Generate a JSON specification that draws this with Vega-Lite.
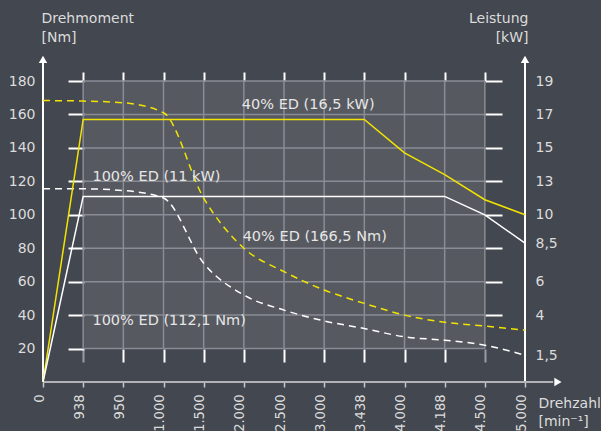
{
  "$schema": "https://vega.github.io/schema/vega-lite/v6.json",
  "width": 482,
  "height": 301,
  "autosize": {"type": "none"},
  "padding": {"left": 43, "top": 81, "right": 76, "bottom": 49},
  "background": "#43474f",
  "config": {
    "view": {"stroke": null},
    "font": "DejaVu Sans",
    "axis": {"labelFont": "DejaVu Sans", "titleFont": "DejaVu Sans", "grid": false, "labelColor": "#dcdcdc", "titleColor": "#dcdcdc", "titleFontWeight": "normal"}
  },
  "datasets": {
    "kurven": [
      {"n": 0, "v": 0, "s": "40% ED Leistung"},
      {"n": 1, "v": 157, "s": "40% ED Leistung"},
      {"n": 8, "v": 157, "s": "40% ED Leistung"},
      {"n": 9, "v": 137, "s": "40% ED Leistung"},
      {"n": 10, "v": 124, "s": "40% ED Leistung"},
      {"n": 11, "v": 109, "s": "40% ED Leistung"},
      {"n": 12, "v": 100, "s": "40% ED Leistung"},
      {"n": 0, "v": 0, "s": "100% ED Leistung"},
      {"n": 1, "v": 111, "s": "100% ED Leistung"},
      {"n": 10, "v": 111, "s": "100% ED Leistung"},
      {"n": 11, "v": 100, "s": "100% ED Leistung"},
      {"n": 12, "v": 83, "s": "100% ED Leistung"},
      {"n": 0, "v": 168.3, "s": "40% ED Moment"},
      {"n": 1, "v": 168, "s": "40% ED Moment"},
      {"n": 2, "v": 167, "s": "40% ED Moment"},
      {"n": 3, "v": 161, "s": "40% ED Moment"},
      {"n": 4, "v": 110, "s": "40% ED Moment"},
      {"n": 5, "v": 80, "s": "40% ED Moment"},
      {"n": 6, "v": 66, "s": "40% ED Moment"},
      {"n": 7, "v": 55, "s": "40% ED Moment"},
      {"n": 8, "v": 47, "s": "40% ED Moment"},
      {"n": 9, "v": 40, "s": "40% ED Moment"},
      {"n": 10, "v": 35.7, "s": "40% ED Moment"},
      {"n": 11, "v": 33.5, "s": "40% ED Moment"},
      {"n": 12, "v": 31, "s": "40% ED Moment"},
      {"n": 0, "v": 115.5, "s": "100% ED Moment"},
      {"n": 1, "v": 115.5, "s": "100% ED Moment"},
      {"n": 2, "v": 114.5, "s": "100% ED Moment"},
      {"n": 3, "v": 110, "s": "100% ED Moment"},
      {"n": 4, "v": 71, "s": "100% ED Moment"},
      {"n": 5, "v": 52, "s": "100% ED Moment"},
      {"n": 6, "v": 43, "s": "100% ED Moment"},
      {"n": 7, "v": 36.5, "s": "100% ED Moment"},
      {"n": 8, "v": 32, "s": "100% ED Moment"},
      {"n": 9, "v": 27, "s": "100% ED Moment"},
      {"n": 10, "v": 25, "s": "100% ED Moment"},
      {"n": 11, "v": 22, "s": "100% ED Moment"},
      {"n": 12, "v": 16, "s": "100% ED Moment"}
    ]
  },
  "layer": [
    {
      "data": {"values": [{"x0": 1, "x1": 11, "y0": 20, "y1": 180}]},
      "mark": {"type": "rect", "fill": "#ffffff", "fillOpacity": 0.1},
      "encoding": {
        "x": {
          "field": "x0", "type": "quantitative",
          "scale": {"domain": [0, 12], "nice": false, "zero": false},
          "axis": {
            "orient": "bottom",
            "values": [0, 1, 2, 3, 4, 5, 6, 7, 8, 9, 10, 11, 12],
            "labelExpr": "['0','938','950','1.000','1.500','2.000','2.500','3.000','3.438','4.000','4.188','4.500','5.000'][datum.value]",
            "labelAngle": -90,
            "labelAlign": "right",
            "labelBaseline": "alphabetic",
            "labelFont": "Liberation Sans Narrow, DejaVu Sans Condensed, sans-serif",
            "labelFontSize": 14.5,
            "labelPadding": 7,
            "labelFlush": false,
            "labelOverlap": false,
            "tickSize": 5,
            "tickColor": "#c8c8c8",
            "tickWidth": 1.5,
            "domain": false,
            "title": ["Drehzahl", "[min⁻¹]"],
            "titleAngle": 0,
            "titleAlign": "left",
            "titleBaseline": "alphabetic",
            "titleX": 495,
            "titleY": 25,
            "titleFontSize": 14,
            "titleLineHeight": 18.5
          }
        },
        "x2": {"field": "x1"},
        "y": {
          "field": "y0", "type": "quantitative",
          "scale": {"domain": [0, 180], "nice": false, "zero": true},
          "axis": {
            "orient": "left",
            "values": [20, 40, 60, 80, 100, 120, 140, 160, 180],
            "ticks": false,
            "domain": false,
            "labelPadding": 8,
            "labelFontSize": 14,
            "labelBaseline": "middle",
            "title": ["Drehmoment", "[Nm]"],
            "titleAngle": 0,
            "titleAlign": "left",
            "titleBaseline": "alphabetic",
            "titleX": -2,
            "titleY": -59,
            "titleFontSize": 14,
            "titleLineHeight": 19
          }
        },
        "y2": {"field": "y1"}
      }
    },
    {
      "data": {"values": [{"gx": 1}, {"gx": 2}, {"gx": 3}, {"gx": 4}, {"gx": 5}, {"gx": 6}, {"gx": 7}, {"gx": 8}, {"gx": 9}, {"gx": 10}, {"gx": 11}]},
      "mark": {"type": "rule", "color": "#8a8c95", "strokeWidth": 1.5},
      "encoding": {
        "x": {
          "field": "gx", "type": "quantitative",
          "scale": {"domain": [0, 12], "nice": false, "zero": false},
          "axis": {"orient": "top", "values": [1, 2, 3, 4, 5, 6, 7, 8, 9, 10, 11], "labels": false, "domain": false, "tickSize": 9, "tickColor": "#ffffff", "tickWidth": 2, "title": null}
        },
        "y": {
          "datum": 20, "type": "quantitative",
          "scale": {"domain": [0, 180], "nice": false, "zero": true},
          "axis": {"orient": "left", "offset": -41, "values": [20, 40, 60, 80, 100, 120, 140, 160, 180], "labels": false, "domain": false, "tickSize": 16, "tickColor": "#ffffff", "tickWidth": 2, "title": null}
        },
        "y2": {"datum": 180}
      }
    },
    {
      "data": {"values": [{"gy": 20}, {"gy": 40}, {"gy": 60}, {"gy": 80}, {"gy": 100}, {"gy": 120}, {"gy": 140}, {"gy": 160}, {"gy": 180}]},
      "mark": {"type": "rule", "color": "#8a8c95", "strokeWidth": 1.5},
      "encoding": {
        "y": {
          "field": "gy", "type": "quantitative",
          "scale": {"domain": [0, 180], "nice": false, "zero": true},
          "axis": {"orient": "right", "offset": -40, "values": [40, 60, 80, 100, 120, 140, 160, 180], "labels": false, "domain": false, "tickSize": 17, "tickColor": "#ffffff", "tickWidth": 2, "title": null}
        },
        "x": {
          "datum": 1, "type": "quantitative",
          "scale": {"domain": [0, 12], "nice": false, "zero": false},
          "axis": {"orient": "bottom", "offset": -33, "values": [1, 2, 3, 4, 5, 6, 7, 8, 9, 10, 11], "labels": false, "domain": false, "tickSize": 13, "tickColor": {"condition": {"test": "datum.value == 1 || datum.value == 11", "value": "#9a9ca4"}, "value": "#ffffff"}, "tickWidth": 2, "title": null}
        },
        "x2": {"datum": 11}
      }
    },
    {
      "data": {"values": [{"ax": 0}, {"ax": 12}]},
      "mark": {"type": "rule", "color": "#ffffff", "strokeWidth": 2},
      "encoding": {
        "x": {"field": "ax", "type": "quantitative", "scale": {"domain": [0, 12], "nice": false, "zero": false}, "axis": null},
        "y": {"datum": 0, "type": "quantitative", "scale": {"domain": [0, 180], "nice": false, "zero": true}, "axis": null},
        "y2": {"datum": 191}
      }
    },
    {
      "data": {"values": [{"ax": 0}, {"ax": 12}]},
      "mark": {"type": "point", "shape": "triangle-up", "filled": true, "color": "#ffffff", "opacity": 1, "size": 70},
      "encoding": {
        "x": {"field": "ax", "type": "quantitative", "scale": {"domain": [0, 12], "nice": false, "zero": false}, "axis": null},
        "y": {"datum": 193, "type": "quantitative", "scale": {"domain": [0, 180], "nice": false, "zero": true}, "axis": null}
      }
    },
    {
      "data": {"values": [{}]},
      "mark": {"type": "rule", "color": "#b4b4b8", "strokeWidth": 2},
      "encoding": {
        "x": {"datum": 0, "type": "quantitative", "scale": {"domain": [0, 12], "nice": false, "zero": false}, "axis": null},
        "x2": {"datum": 12.7},
        "y": {"datum": 0, "type": "quantitative", "scale": {"domain": [0, 180], "nice": false, "zero": true}, "axis": null}
      }
    },
    {
      "data": {"values": [{}]},
      "mark": {"type": "point", "shape": "triangle-right", "filled": true, "color": "#ffffff", "opacity": 1, "size": 70},
      "encoding": {
        "x": {"datum": 12.82, "type": "quantitative", "scale": {"domain": [0, 12], "nice": false, "zero": false}, "axis": null},
        "y": {"datum": 0, "type": "quantitative", "scale": {"domain": [0, 180], "nice": false, "zero": true}, "axis": null}
      }
    },
    {
      "data": {"name": "kurven"},
      "transform": [{"filter": "indexof(datum.s, 'Moment') >= 0"}],
      "mark": {"type": "line", "interpolate": "monotone", "strokeWidth": 1.5, "strokeDash": [7, 5]},
      "encoding": {
        "x": {"field": "n", "type": "quantitative", "scale": {"domain": [0, 12], "nice": false, "zero": false}, "axis": null},
        "y": {"field": "v", "type": "quantitative", "scale": {"domain": [0, 180], "nice": false, "zero": true}, "axis": null},
        "color": {"field": "s", "type": "nominal", "scale": {"domain": ["40% ED Leistung", "100% ED Leistung", "40% ED Moment", "100% ED Moment"], "range": ["#f2e400", "#ffffff", "#f2e400", "#ffffff"]}, "legend": null}
      }
    },
    {
      "data": {"name": "kurven"},
      "transform": [{"filter": "indexof(datum.s, 'Leistung') >= 0"}],
      "mark": {"type": "line", "interpolate": "linear", "strokeWidth": 1.5},
      "encoding": {
        "x": {"field": "n", "type": "quantitative", "scale": {"domain": [0, 12], "nice": false, "zero": false}, "axis": null},
        "y": {
          "field": "v", "type": "quantitative",
          "scale": {"domain": [0, 180], "nice": false, "zero": true},
          "axis": {
            "orient": "right",
            "values": [16, 40, 60, 83, 100, 120, 140, 160, 180],
            "labelExpr": "datum.value == 16 ? '1,5' : datum.value == 40 ? '4' : datum.value == 60 ? '6' : datum.value == 83 ? '8,5' : datum.value == 100 ? '10' : datum.value == 120 ? '13' : datum.value == 140 ? '15' : datum.value == 160 ? '17' : '19'",
            "ticks": false,
            "domain": false,
            "labelPadding": 10,
            "labelFontSize": 14,
            "labelBaseline": "middle",
            "labelOverlap": false,
            "title": ["Leistung", "[kW]"],
            "titleAngle": 0,
            "titleAlign": "right",
            "titleBaseline": "alphabetic",
            "titleX": 3,
            "titleY": -59,
            "titleFontSize": 14,
            "titleLineHeight": 19
          }
        },
        "color": {"field": "s", "type": "nominal", "scale": {"domain": ["40% ED Leistung", "100% ED Leistung", "40% ED Moment", "100% ED Moment"], "range": ["#f2e400", "#ffffff", "#f2e400", "#ffffff"]}, "legend": null}
      }
    },
    {
      "data": {"values": [
        {"tx": 4.95, "ty": 163, "t": "40% ED (16,5 kW)"},
        {"tx": 1.23, "ty": 120.4, "t": "100% ED (11 kW)"},
        {"tx": 4.97, "ty": 84.4, "t": "40% ED (166,5 Nm)"},
        {"tx": 1.23, "ty": 34.1, "t": "100% ED (112,1 Nm)"}
      ]},
      "mark": {"type": "text", "align": "left", "baseline": "alphabetic", "fontSize": 14.5, "font": "DejaVu Sans", "color": "#e6e6e6"},
      "encoding": {
        "x": {"field": "tx", "type": "quantitative", "scale": {"domain": [0, 12], "nice": false, "zero": false}, "axis": null},
        "y": {"field": "ty", "type": "quantitative", "scale": {"domain": [0, 180], "nice": false, "zero": true}, "axis": null},
        "text": {"field": "t", "type": "nominal"}
      }
    }
  ],
  "resolve": {"scale": {"x": "shared", "y": "shared"}, "axis": {"x": "independent", "y": "independent"}}
}
